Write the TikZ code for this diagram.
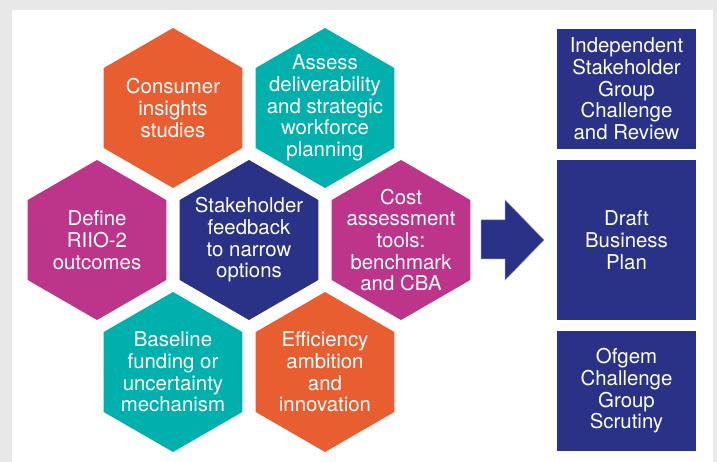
\documentclass[tikz,border=0pt]{standalone}
\usepackage{fontspec}
\setmainfont{TeX Gyre Heros}
\usetikzlibrary{shapes,positioning}
\definecolor{hexorange}{RGB}{233,94,48}
\definecolor{hexteal}{RGB}{0,176,173}
\definecolor{hexpink}{RGB}{189,52,139}
\definecolor{hexnavy}{RGB}{42,50,135}
\definecolor{bggrey}{RGB}{232,232,232}

\begin{document}
\begin{tikzpicture}[x=1pt,y=-1pt,
  hex/.style={regular polygon,regular polygon sides=6,shape border rotate=30,
    minimum size=160pt,inner sep=0pt,fill=#1},
  txt/.style={text=white,align=center,inner sep=0pt,
    font=\fontsize{20.4}{21.7}\selectfont},
  panel/.style={rectangle,fill=hexnavy,minimum width=139pt,minimum height=#1,
    inner sep=0pt,text=white,align=center,font=\fontsize{20.4}{21.7}\selectfont}]
% frame
\fill[bggrey] (0,0) rectangle (717,462);
\fill[white] (12,10) rectangle (713,462);
% honeycomb
\node[hex=hexorange,label={[txt]center:Consumer\\insights\\studies}] (consumer) at (173,108) {};
\node[hex=hexteal,label={[txt]center:Assess\\deliverability\\and strategic\\workforce\\planning}] (assess) at (325,108) {};
\node[hex=hexpink,label={[txt]center:Define\\RIIO-2\\outcomes}] (define) at (97,240) {};
\node[hex=hexnavy,label={[txt]center:Stakeholder\\feedback\\to narrow\\options}] (feedback) at (249,240) {};
\node[hex=hexpink,label={[txt]center:Cost\\assessment\\tools:\\benchmark\\and CBA}] (cost) at (401,240) {};
\node[hex=hexteal,label={[txt]center:Baseline\\funding or\\uncertainty\\mechanism}] (baseline) at (173,372) {};
\node[hex=hexorange,label={[txt]center:Efficiency\\ambition\\and\\innovation}] (efficiency) at (325,372) {};
% outputs
\node[panel=120pt] (isg) at (626.5,89) {Independent\\Stakeholder\\Group\\Challenge\\and Review};
\node[panel=160pt] (plan) at (626.5,240) {Draft\\Business\\Plan};
\node[panel=120pt] (ofgem) at (626.5,391) {Ofgem\\Challenge\\Group\\Scrutiny};
% big arrow
\fill[hexnavy,draw=hexnavy!60!white,line width=0.5pt]
  (481,220) -- (505,220) -- (505,200) -- (544,240) -- (505,280) -- (505,259) -- (481,259) -- cycle;
\end{tikzpicture}
\end{document}
